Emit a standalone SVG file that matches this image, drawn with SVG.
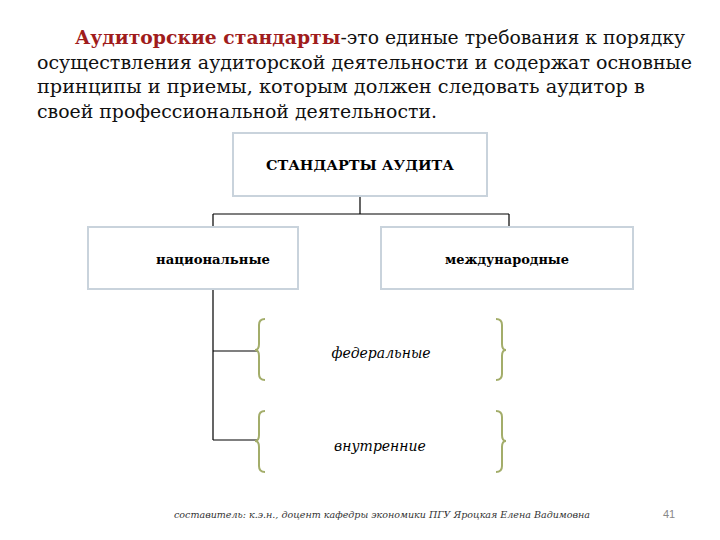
<svg xmlns="http://www.w3.org/2000/svg" width="720" height="540" viewBox="0 0 720 540">
<style>
.t{font-family:"DejaVu Serif","Liberation Serif",serif;font-size:18px;fill:#111}
.box{fill:#fff;stroke:#c9d3dc;stroke-width:2}
.lbl{font-family:"DejaVu Serif","Liberation Serif",serif;font-size:13px;font-weight:bold;fill:#000}
.it{font-family:"DejaVu Serif","Liberation Serif",serif;font-size:14px;font-style:italic;fill:#000;text-anchor:middle}
.br{fill:none;stroke:#a3ad6a;stroke-width:2}
.ln{fill:none;stroke:#000;stroke-width:1.2}
</style>
<rect width="720" height="540" fill="#fff"/>
<text class="t" x="75" y="44" textLength="610" lengthAdjust="spacingAndGlyphs"><tspan fill="#a01c1c" font-weight="bold">Аудиторские стандарты</tspan>-это единые требования к порядку</text>
<text class="t" x="37" y="69" textLength="655" lengthAdjust="spacingAndGlyphs">осуществления аудиторской деятельности и содержат основные</text>
<text class="t" x="37" y="93" textLength="608" lengthAdjust="spacingAndGlyphs">принципы и приемы, которым должен следовать аудитор в</text>
<text class="t" x="37" y="118" textLength="400" lengthAdjust="spacingAndGlyphs">своей профессиональной деятельности.</text>
<g id="connectors">
<path class="ln" d="M360 196V214M213 214H509M213 214V227M509 214V227M213 289V440M213 351H258M213 440H258"/>
</g>
<g id="top"><rect class="box" x="233" y="133" width="254" height="63"/><text class="lbl" x="360" y="170" text-anchor="middle" textLength="188" lengthAdjust="spacingAndGlyphs">СТАНДАРТЫ АУДИТА</text></g>
<g id="nat"><rect class="box" x="88" y="227" width="210" height="62"/><text class="lbl" x="156" y="264" textLength="114" lengthAdjust="spacingAndGlyphs">национальные</text></g>
<g id="intl"><rect class="box" x="381" y="227" width="252" height="62"/><text class="lbl" x="445" y="264" textLength="124" lengthAdjust="spacingAndGlyphs">международные</text></g>
<g id="fed">
<path class="br" d="M265 319Q259 319 259 325V344Q259 350 255 350Q259 350 259 356V374Q259 380 265 380"/>
<path class="br" d="M496 319Q502 319 502 325V344Q502 350 506 350Q502 350 502 356V374Q502 380 496 380"/>
<text class="it" x="381" y="358">федеральные</text></g>
<g id="int">
<path class="br" d="M265 411Q259 411 259 417V435Q259 441 255 441Q259 441 259 447V466Q259 472 265 472"/>
<path class="br" d="M496 411Q502 411 502 417V435Q502 441 506 441Q502 441 502 447V466Q502 472 496 472"/>
<text class="it" x="380" y="451">внутренние</text></g>
<text x="174" y="518" font-family="DejaVu Serif,serif" font-style="italic" font-size="10" fill="#333" textLength="416" lengthAdjust="spacingAndGlyphs">составитель: к.э.н., доцент кафедры экономики ПГУ Яроцкая Елена Вадимовна</text>
<text x="669" y="518" font-family="Liberation Sans,sans-serif" font-size="11" fill="#888" text-anchor="middle">41</text>
</svg>
